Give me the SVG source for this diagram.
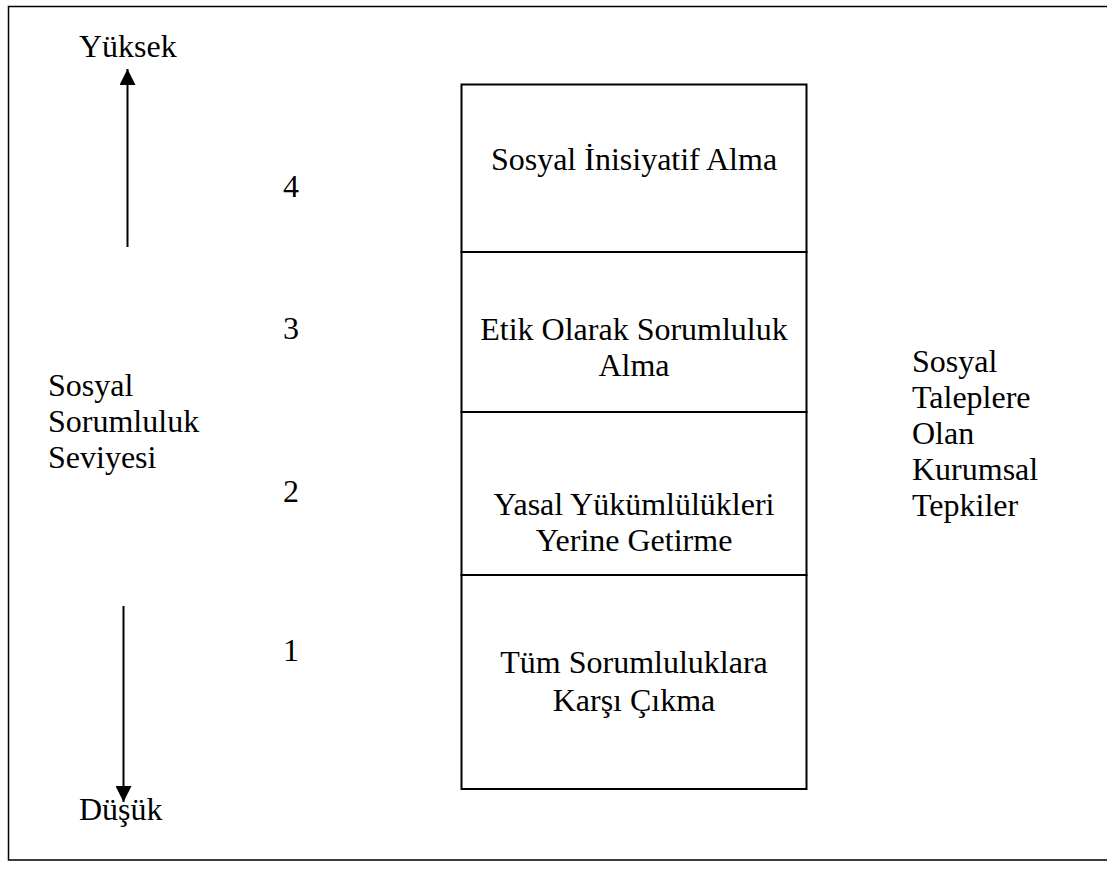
<svg xmlns="http://www.w3.org/2000/svg" width="1107" height="871" viewBox="0 0 1107 871">
<style>
text{font-family:"Liberation Serif","Times New Roman",serif;font-size:32px;fill:#000}
.c{text-anchor:middle}
.box{fill:#fff;stroke:#000;stroke-width:2}
.ln{stroke:#000;stroke-width:2;fill:none}
</style>
<defs>
<marker id="ah" viewBox="0 0 16 16" refX="16" refY="8" markerWidth="16" markerHeight="16" markerUnits="userSpaceOnUse" orient="auto">
<path d="M0,0 L16,8 L0,16 Z" fill="#000"/>
</marker>
</defs>
<rect width="1107" height="871" fill="#fff"/>
<path d="M1110,6.5 H8.5 V860 H1110" fill="none" stroke="#000" stroke-width="1.5"/>
<g id="n4"><rect class="box" x="461.5" y="84.5" width="345" height="167.5"/><text class="c" x="634" y="170">Sosyal İnisiyatif Alma</text></g>
<g id="n3"><rect class="box" x="461.5" y="252" width="345" height="160"/><text class="c" x="634" y="340">Etik Olarak Sorumluluk</text><text class="c" x="634" y="376">Alma</text></g>
<g id="n2"><rect class="box" x="461.5" y="412" width="345" height="163"/><text class="c" x="634" y="515">Yasal Yükümlülükleri</text><text class="c" x="634" y="551">Yerine Getirme</text></g>
<g id="n1"><rect class="box" x="461.5" y="575" width="345" height="214"/><text class="c" x="634" y="673">Tüm Sorumluluklara</text><text class="c" x="634" y="711">Karşı Çıkma</text></g>
<g id="connectors">
<line class="ln" x1="127.5" y1="247" x2="127.5" y2="69" marker-end="url(#ah)"/>
<line class="ln" x1="123.5" y1="606" x2="123.5" y2="802" marker-end="url(#ah)"/>
</g>
<g id="labels">
<text x="79" y="57">Yüksek</text>
<text x="79" y="820">Düşük</text>
<text x="283" y="197">4</text>
<text x="283" y="339">3</text>
<text x="283" y="502">2</text>
<text x="283" y="661">1</text>
<text x="48" y="396">Sosyal</text>
<text x="48" y="432">Sorumluluk</text>
<text x="48" y="468">Seviyesi</text>
<text x="912" y="372">Sosyal</text>
<text x="912" y="408">Taleplere</text>
<text x="912" y="444">Olan</text>
<text x="912" y="480">Kurumsal</text>
<text x="912" y="516">Tepkiler</text>
</g>
</svg>
